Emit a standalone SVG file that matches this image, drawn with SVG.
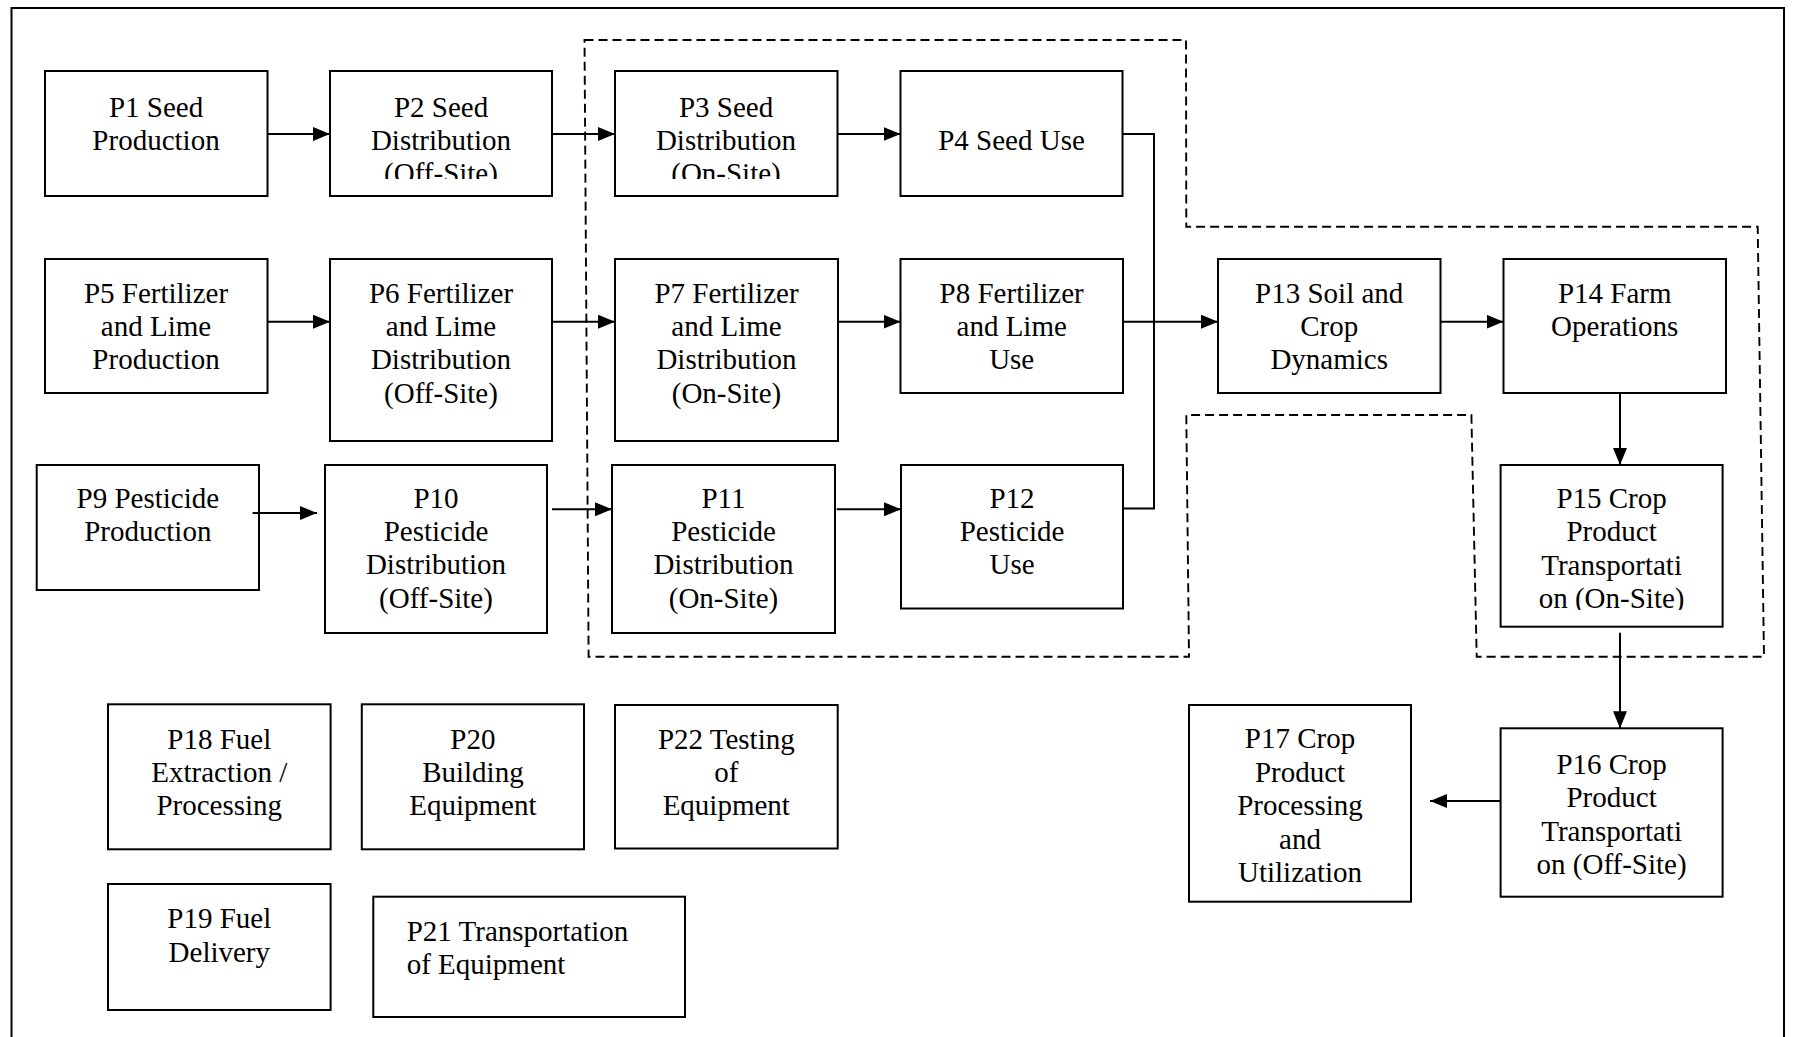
<svg xmlns="http://www.w3.org/2000/svg" width="1796" height="1037" viewBox="0 0 1796 1037">
<style>
.box{fill:#fff;stroke:#000;stroke-width:2}
.t{font-family:"Liberation Serif","Times New Roman",serif;font-size:29px;text-anchor:middle;fill:#000}
.tl{text-anchor:start}
.c{fill:none;stroke:#000;stroke-width:2}
.d{fill:none;stroke:#000;stroke-width:1.9;stroke-dasharray:9 5}
.frame{fill:none;stroke:#000;stroke-width:2}
</style>
<defs>
<marker id="ah" markerUnits="userSpaceOnUse" markerWidth="17" markerHeight="14" viewBox="0 0 17 14" refX="17" refY="7" orient="auto">
<path d="M0,0 L17,7 L0,14 z" fill="#000"/>
</marker>
<clipPath id="clipP2"><rect x="330" y="71" width="222" height="108"/></clipPath>
<clipPath id="clipP3"><rect x="615" y="71" width="223" height="108"/></clipPath>
<clipPath id="clipP15"><rect x="1500" y="465" width="223" height="145"/></clipPath>
</defs>
<rect width="1796" height="1037" fill="#fff"/>
<path class="frame" d="M11.5,1037 V8 H1784 V1037"/>
<path class="d" d="M584.5,40 H1186 L1186.3,226.7 H1757.7 L1764,656.7 H1476.7 L1471.4,415 H1186.3 L1189,656.7 H588.6 Z"/>

<g id="P1"><rect class="box" x="45" y="71" width="222.5" height="125"/>
<text class="t" x="156" y="116.7">P1 Seed</text><text class="t" x="156" y="150">Production</text></g>
<g id="P2"><rect class="box" x="330" y="71" width="222" height="125"/>
<g clip-path="url(#clipP2)"><text class="t" x="441" y="116.7">P2 Seed</text><text class="t" x="441" y="150">Distribution</text><text class="t" x="441" y="183.4">(Off-Site)</text></g></g>
<g id="P3"><rect class="box" x="615" y="71" width="222.5" height="125"/>
<g clip-path="url(#clipP3)"><text class="t" x="726" y="116.7">P3 Seed</text><text class="t" x="726" y="150">Distribution</text><text class="t" x="726" y="183.4">(On-Site)</text></g></g>
<g id="P4"><rect class="box" x="900.5" y="71" width="222" height="125"/>
<text class="t" x="1011.5" y="150">P4 Seed Use</text></g>

<g id="P5"><rect class="box" x="45" y="259" width="222.5" height="134"/>
<text class="t" x="156" y="302.5">P5 Fertilizer</text><text class="t" x="156" y="335.9">and Lime</text><text class="t" x="156" y="369.3">Production</text></g>
<g id="P6"><rect class="box" x="330" y="259" width="222" height="182"/>
<text class="t" x="441" y="302.5">P6 Fertilizer</text><text class="t" x="441" y="335.9">and Lime</text><text class="t" x="441" y="369.3">Distribution</text><text class="t" x="441" y="402.7">(Off-Site)</text></g>
<g id="P7"><rect class="box" x="615" y="259" width="223" height="182"/>
<text class="t" x="726.5" y="302.5">P7 Fertilizer</text><text class="t" x="726.5" y="335.9">and Lime</text><text class="t" x="726.5" y="369.3">Distribution</text><text class="t" x="726.5" y="402.7">(On-Site)</text></g>
<g id="P8"><rect class="box" x="900.5" y="259" width="222.5" height="134"/>
<text class="t" x="1011.7" y="302.5">P8 Fertilizer</text><text class="t" x="1011.7" y="335.9">and Lime</text><text class="t" x="1011.7" y="369.3">Use</text></g>
<g id="P13"><rect class="box" x="1218" y="259" width="222.5" height="134"/>
<text class="t" x="1329.2" y="302.5">P13 Soil and</text><text class="t" x="1329.2" y="335.9">Crop</text><text class="t" x="1329.2" y="369.3">Dynamics</text></g>
<g id="P14"><rect class="box" x="1503.5" y="259" width="222.5" height="134"/>
<text class="t" x="1614.7" y="302.5">P14 Farm</text><text class="t" x="1614.7" y="335.9">Operations</text></g>

<g id="P9"><rect class="box" x="36.7" y="465" width="222.3" height="125"/>
<text class="t" x="147.8" y="507.5">P9 Pesticide</text><text class="t" x="147.8" y="540.9">Production</text></g>
<g id="P10"><rect class="box" x="325" y="465" width="222" height="168"/>
<text class="t" x="436" y="507.5">P10</text><text class="t" x="436" y="540.9">Pesticide</text><text class="t" x="436" y="574.3">Distribution</text><text class="t" x="436" y="607.7">(Off-Site)</text></g>
<g id="P11"><rect class="box" x="612" y="465" width="223" height="168"/>
<text class="t" x="723.5" y="507.5">P11</text><text class="t" x="723.5" y="540.9">Pesticide</text><text class="t" x="723.5" y="574.3">Distribution</text><text class="t" x="723.5" y="607.7">(On-Site)</text></g>
<g id="P12"><rect class="box" x="901" y="465" width="222" height="143.5"/>
<text class="t" x="1012" y="507.5">P12</text><text class="t" x="1012" y="540.9">Pesticide</text><text class="t" x="1012" y="574.3">Use</text></g>
<g id="P15"><rect class="box" x="1500.6" y="465" width="222" height="161.7"/>
<g clip-path="url(#clipP15)"><text class="t" x="1611.6" y="508">P15 Crop</text><text class="t" x="1611.6" y="541.4">Product</text><text class="t" x="1611.6" y="574.8">Transportati</text><text class="t" x="1611.6" y="608.2">on (On-Site)</text></g></g>

<g id="P16"><rect class="box" x="1500.6" y="728.3" width="222" height="168.4"/>
<text class="t" x="1611.6" y="774">P16 Crop</text><text class="t" x="1611.6" y="807.4">Product</text><text class="t" x="1611.6" y="840.8">Transportati</text><text class="t" x="1611.6" y="874.2">on (Off-Site)</text></g>
<g id="P17"><rect class="box" x="1189" y="705" width="222" height="196.7"/>
<text class="t" x="1300" y="748.3">P17 Crop</text><text class="t" x="1300" y="781.7">Product</text><text class="t" x="1300" y="815.1">Processing</text><text class="t" x="1300" y="848.5">and</text><text class="t" x="1300" y="881.9">Utilization</text></g>

<g id="P18"><rect class="box" x="108" y="704.3" width="222.6" height="145"/>
<text class="t" x="219.3" y="748.5">P18 Fuel</text><text class="t" x="219.3" y="781.9">Extraction /</text><text class="t" x="219.3" y="815.3">Processing</text></g>
<g id="P20"><rect class="box" x="361.8" y="704.3" width="222.2" height="145"/>
<text class="t" x="472.9" y="748.5">P20</text><text class="t" x="472.9" y="781.9">Building</text><text class="t" x="472.9" y="815.3">Equipment</text></g>
<g id="P22"><rect class="box" x="615" y="705" width="222.7" height="143.5"/>
<text class="t" x="726.3" y="748.5">P22 Testing</text><text class="t" x="726.3" y="781.9">of</text><text class="t" x="726.3" y="815.3">Equipment</text></g>
<g id="P19"><rect class="box" x="108" y="884" width="222.6" height="126"/>
<text class="t" x="219.3" y="928.3">P19 Fuel</text><text class="t" x="219.3" y="961.7">Delivery</text></g>
<g id="P21"><rect class="box" x="373.3" y="896.7" width="311.7" height="120.3"/>
<text class="t tl" x="406.7" y="941">P21 Transportation</text><text class="t tl" x="406.7" y="974.4">of Equipment</text></g>

<g id="connectors">
<path class="c" d="M267.5,134 H330" marker-end="url(#ah)"/>
<path class="c" d="M552,134 H615" marker-end="url(#ah)"/>
<path class="c" d="M837.5,134 H900.5" marker-end="url(#ah)"/>
<path class="c" d="M1122.5,134 H1154 V508.5 H1123"/>
<path class="c" d="M1123,321.7 H1218" marker-end="url(#ah)"/>
<path class="c" d="M267.5,321.7 H330" marker-end="url(#ah)"/>
<path class="c" d="M552,321.7 H615" marker-end="url(#ah)"/>
<path class="c" d="M838,321.7 H900.5" marker-end="url(#ah)"/>
<path class="c" d="M252.6,513 H317" marker-end="url(#ah)"/>
<path class="c" d="M552,509.3 H612" marker-end="url(#ah)"/>
<path class="c" d="M836.7,509.3 H901" marker-end="url(#ah)"/>
<path class="c" d="M1440.5,321.7 H1503.5" marker-end="url(#ah)"/>
<path class="c" d="M1620,393 V465" marker-end="url(#ah)"/>
<path class="c" d="M1620,632.7 V728.3" marker-end="url(#ah)"/>
<path class="c" d="M1500.6,801 H1430" marker-end="url(#ah)"/>
</g>
</svg>
